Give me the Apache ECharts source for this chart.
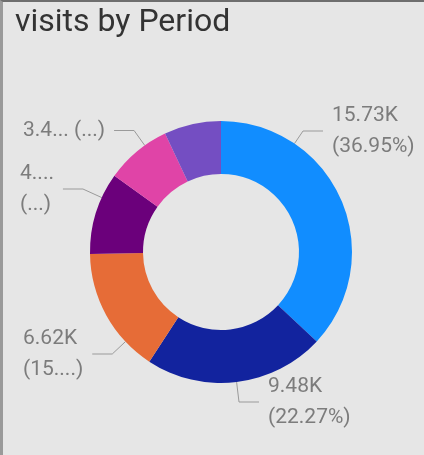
<!DOCTYPE html>
<html>
<head>
<meta charset="utf-8">
<script src="https://cdn.jsdelivr.net/npm/echarts@6/dist/echarts.min.js"></script>
<style>
  html, body { margin: 0; padding: 0; background: #e6e6e6; }
  #chart {
    width: 424px; height: 455px; box-sizing: border-box;
    border-top: 2px solid #6e6e6e; border-left: 3px solid #9a9a9a;
  }
</style>
</head>
<body>
<div id="chart"></div>
<script>
// slices in drawing order, clockwise from 12 o'clock
var periods = ['Period 1', 'Period 2', 'Period 3', 'Period 4', 'Period 5', 'Period 6'];
var visitsK = [15.73, 9.48, 6.62, 4.30, 3.45, 2.99];
var colors = ['#118DFF', '#12239E', '#E66C37', '#6B007B', '#E044A7', '#744EC2'];
// labels as Power BI shows them (truncated), '' = hidden
var shownLabels = ['15.73K\n(36.95%)', '9.48K\n(22.27%)', '6.62K\n(15....)', '4....\n(...)', '3.4... (...)', ''];

// where each label block sits (top-left corner) and which side the leader line enters
var labelPos = [[329, 98], [265, 369], [20, 321], [17, 156], [20, 113], null];
var lineSide = ['left', 'left', 'right', 'right', 'right', null];

var CX = 218, CY = 250, R_IN = 78, R_OUT = 131;

var chart = echarts.init(document.getElementById('chart'));

var seriesData = periods.map(function (p, i) {
  var hidden = shownLabels[i] === '';
  return {
    name: p,
    value: visitsK[i],
    itemStyle: { color: colors[i] },
    label: { show: !hidden },
    labelLine: { show: !hidden }
  };
});

// Power BI style leader: edge of ring -> elbow -> short horizontal run to the label
function leader(i, rect, x, y) {
  var gap = 9, run = 20;
  var my = y + rect.height / 2;
  var ex = lineSide[i] === 'left' ? x - gap : x + rect.width + gap;
  var kx = lineSide[i] === 'left' ? ex - run : ex + run;
  var dx = kx - CX, dy = my - CY;
  var d = Math.sqrt(dx * dx + dy * dy);
  var sx = CX + dx / d * R_OUT, sy = CY + dy / d * R_OUT;
  return [[sx, sy], [kx, my], [ex, my]];
}

chart.setOption({
  backgroundColor: '#e6e6e6',
  title: {
    text: 'visits by Period',
    left: 7,
    top: 0,
    textStyle: {
      fontFamily: 'Roboto',
      fontSize: 32,
      fontWeight: 'normal',
      color: '#333333'
    }
  },
  series: [{
    type: 'pie',
    center: [CX, CY],
    radius: [R_IN, R_OUT],
    startAngle: 90,
    clockwise: true,
    avoidLabelOverlap: false,
    animation: false,
    label: {
      position: 'outside',
      fontFamily: 'Roboto',
      fontSize: 21,
      lineHeight: 31,
      color: '#7c7c7c',
      formatter: function (p) { return shownLabels[p.dataIndex]; }
    },
    labelLine: {
      length: 12,
      length2: 18,
      lineStyle: { color: '#9a9a9a', width: 1 }
    },
    labelLayout: function (params) {
      var i = params.dataIndex;
      var pos = labelPos[i];
      if (!pos) return {};
      return {
        x: pos[0], y: pos[1], align: 'left', verticalAlign: 'top',
        labelLinePoints: leader(i, params.labelRect, pos[0], pos[1])
      };
    },
    data: seriesData
  }]
});
</script>
</body>
</html>
